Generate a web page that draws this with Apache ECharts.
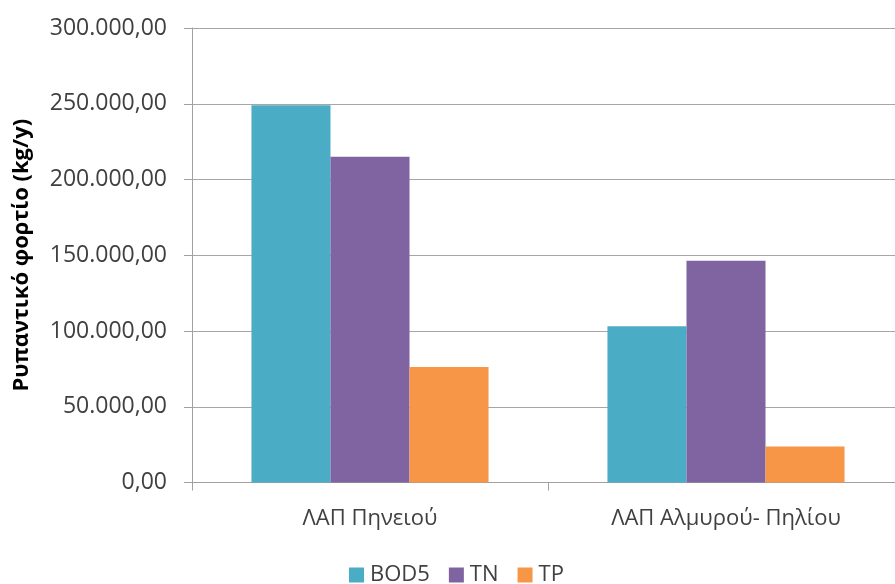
<!DOCTYPE html>
<html>
<head>
<meta charset="utf-8">
<script src="https://cdn.jsdelivr.net/npm/echarts@6/dist/echarts.min.js"></script>
<style>
  html, body { margin: 0; padding: 0; background: #fff; }
  #chart { width: 895px; height: 584px; }
</style>
</head>
<body>
<div id="chart"></div>
<script>
// Pollutant loads per river basin district (kg/y)
const categories = ['ΛΑΠ Πηνειού', 'ΛΑΠ Αλμυρού- Πηλίου'];
const bod5 = [249000, 103200];
const tn = [215000, 146400];
const tp = [76300, 23700];
const yTicks = { min: 0, max: 300000, interval: 50000 };

const font = 'Open Sans, Noto Sans, sans-serif';
const textColor = '#404040';

function fmt(v) {
  const s = Math.round(v).toString().replace(/\B(?=(\d{3})+(?!\d))/g, '.');
  return s + ',00';
}

const chart = echarts.init(document.getElementById('chart'));
chart.setOption({
  animation: false,
  color: ['#4BACC6', '#8064A2', '#F79646'],
  grid: {
    left: 192, width: 712, top: 28, bottom: 101.5,
    containLabel: false, outerBoundsMode: 'none'
  },
  legend: {
    top: 559,
    left: 344,
    itemWidth: 15,
    itemHeight: 15,
    itemGap: 19,
    icon: 'rect',
    textStyle: { fontFamily: font, fontSize: 22, color: textColor, padding: [0, 0, 0, 1] },
    data: ['BOD5', 'TN', 'TP']
  },
  xAxis: {
    type: 'category',
    data: categories,
    axisLine: { lineStyle: { color: '#a0a0a0', width: 1 } },
    axisTick: { show: true, length: 8, lineStyle: { color: '#a0a0a0' } },
    axisLabel: { fontFamily: font, fontSize: 22, color: textColor, margin: 25 }
  },
  yAxis: {
    type: 'value',
    min: yTicks.min,
    max: yTicks.max,
    interval: yTicks.interval,
    name: 'Ρυπαντικό φορτίο (kg/y)',
    nameLocation: 'middle',
    nameGap: 159,
    nameTextStyle: { fontFamily: font, fontSize: 22, fontWeight: 'bold', color: '#000' },
    axisLine: { show: true, lineStyle: { color: '#a0a0a0', width: 1 } },
    axisTick: { show: true, length: 8, lineStyle: { color: '#a0a0a0' } },
    axisLabel: { fontFamily: font, fontSize: 23, color: textColor, margin: 25, formatter: fmt },
    splitLine: { lineStyle: { color: '#a6a6a6', width: 1 } }
  },
  series: [
    { name: 'BOD5', type: 'bar', data: bod5, barGap: '0%', barCategoryGap: '33.4%' },
    { name: 'TN', type: 'bar', data: tn, barGap: '0%', barCategoryGap: '33.4%' },
    { name: 'TP', type: 'bar', data: tp, barGap: '0%', barCategoryGap: '33.4%' }
  ]
});
</script>
</body>
</html>
